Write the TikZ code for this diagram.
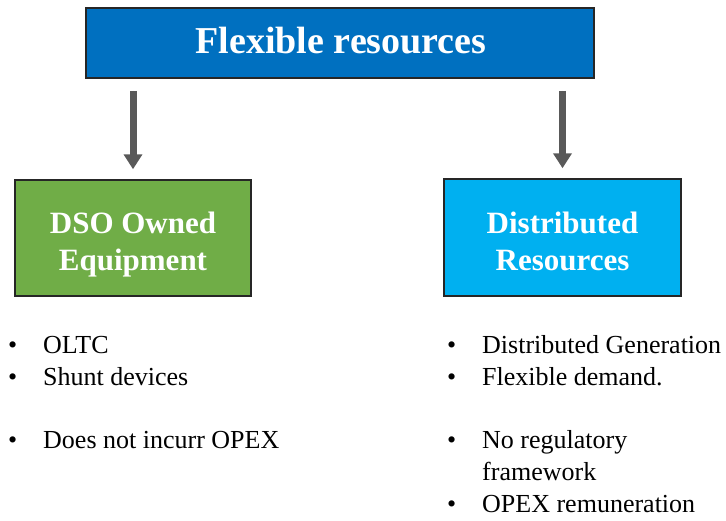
\documentclass[tikz,border=0pt]{standalone}
\usepackage{fontspec}
\setmainfont{Liberation Serif}
\usetikzlibrary{arrows.meta}
\definecolor{topblue}{HTML}{0070C0}
\definecolor{dsogreen}{HTML}{70AD47}
\definecolor{drcyan}{HTML}{00B0F0}
\definecolor{arrgray}{HTML}{595959}
\tikzset{
  boxstyle/.style={draw=black!85, line width=1.5pt, inner sep=0pt},
  titletext/.style={text=white, font=\bfseries\fontsize{38}{44}\selectfont, anchor=base, inner sep=0pt},
  boxtext/.style={text=white, font=\bfseries\fontsize{31}{37}\selectfont, anchor=base, inner sep=0pt},
  itemtext/.style={text=black, font=\fontsize{26}{32}\selectfont, anchor=base west, inner sep=0pt},
  bulletmark/.style={text=black, font=\fontsize{26}{32}\selectfont, anchor=base west, inner sep=0pt},
  arr/.style={draw=arrgray, fill=arrgray, line width=7pt, -{Triangle[width=18pt,length=15pt]}}
}
\begin{document}
\begin{tikzpicture}[x=1pt,y=-1pt]
\useasboundingbox (0,0) rectangle (726,520);
% boxes
\node[boxstyle, fill=topblue, minimum width=508pt, minimum height=70pt] (top) at (340,43) {};
\node[boxstyle, fill=dsogreen, minimum width=236pt, minimum height=116pt] (dso) at (133,238) {};
\node[boxstyle, fill=drcyan, minimum width=237pt, minimum height=117pt] (dr) at (562.5,237.5) {};
% texts in boxes
\node[titletext] (toptxt) at (341,53) {Flexible resources};
\node[boxtext] (dso1) at (133,233) {DSO Owned};
\node[boxtext] (dso2) at (133,270) {Equipment};
\node[boxtext] (dr1) at (562.5,233) {Distributed};
\node[boxtext] (dr2) at (562.5,270) {Resources};
% arrows
\draw[arr] ([yshift=-12pt]top.south -| dso.north) -- ([yshift=10pt]dso.north);
\draw[arr] ([yshift=-12pt]top.south -| dr.north) -- ([yshift=10pt]dr.north);
% left bullets
\node[bulletmark] (lb1) at (8,353) {•};
\node[itemtext] (l1) at (43,353) {OLTC};
\node[bulletmark] (lb2) at (8,385) {•};
\node[itemtext] (l2) at (43,385) {Shunt devices};
\node[bulletmark] (lb3) at (8,448) {•};
\node[itemtext] (l3) at (43,448) {Does not incurr OPEX};
% right bullets
\node[bulletmark] (rb1) at (447,353) {•};
\node[itemtext] (r1) at (482,353) {Distributed Generation};
\node[bulletmark] (rb2) at (447,385) {•};
\node[itemtext] (r2) at (482,385) {Flexible demand.};
\node[bulletmark] (rb3) at (447,448) {•};
\node[itemtext] (r3) at (482,448) {No regulatory};
\node[itemtext] (r4) at (482,480) {framework};
\node[bulletmark] (rb4) at (447,512) {•};
\node[itemtext] (r5) at (482,512) {OPEX remuneration};
\end{tikzpicture}
\end{document}
